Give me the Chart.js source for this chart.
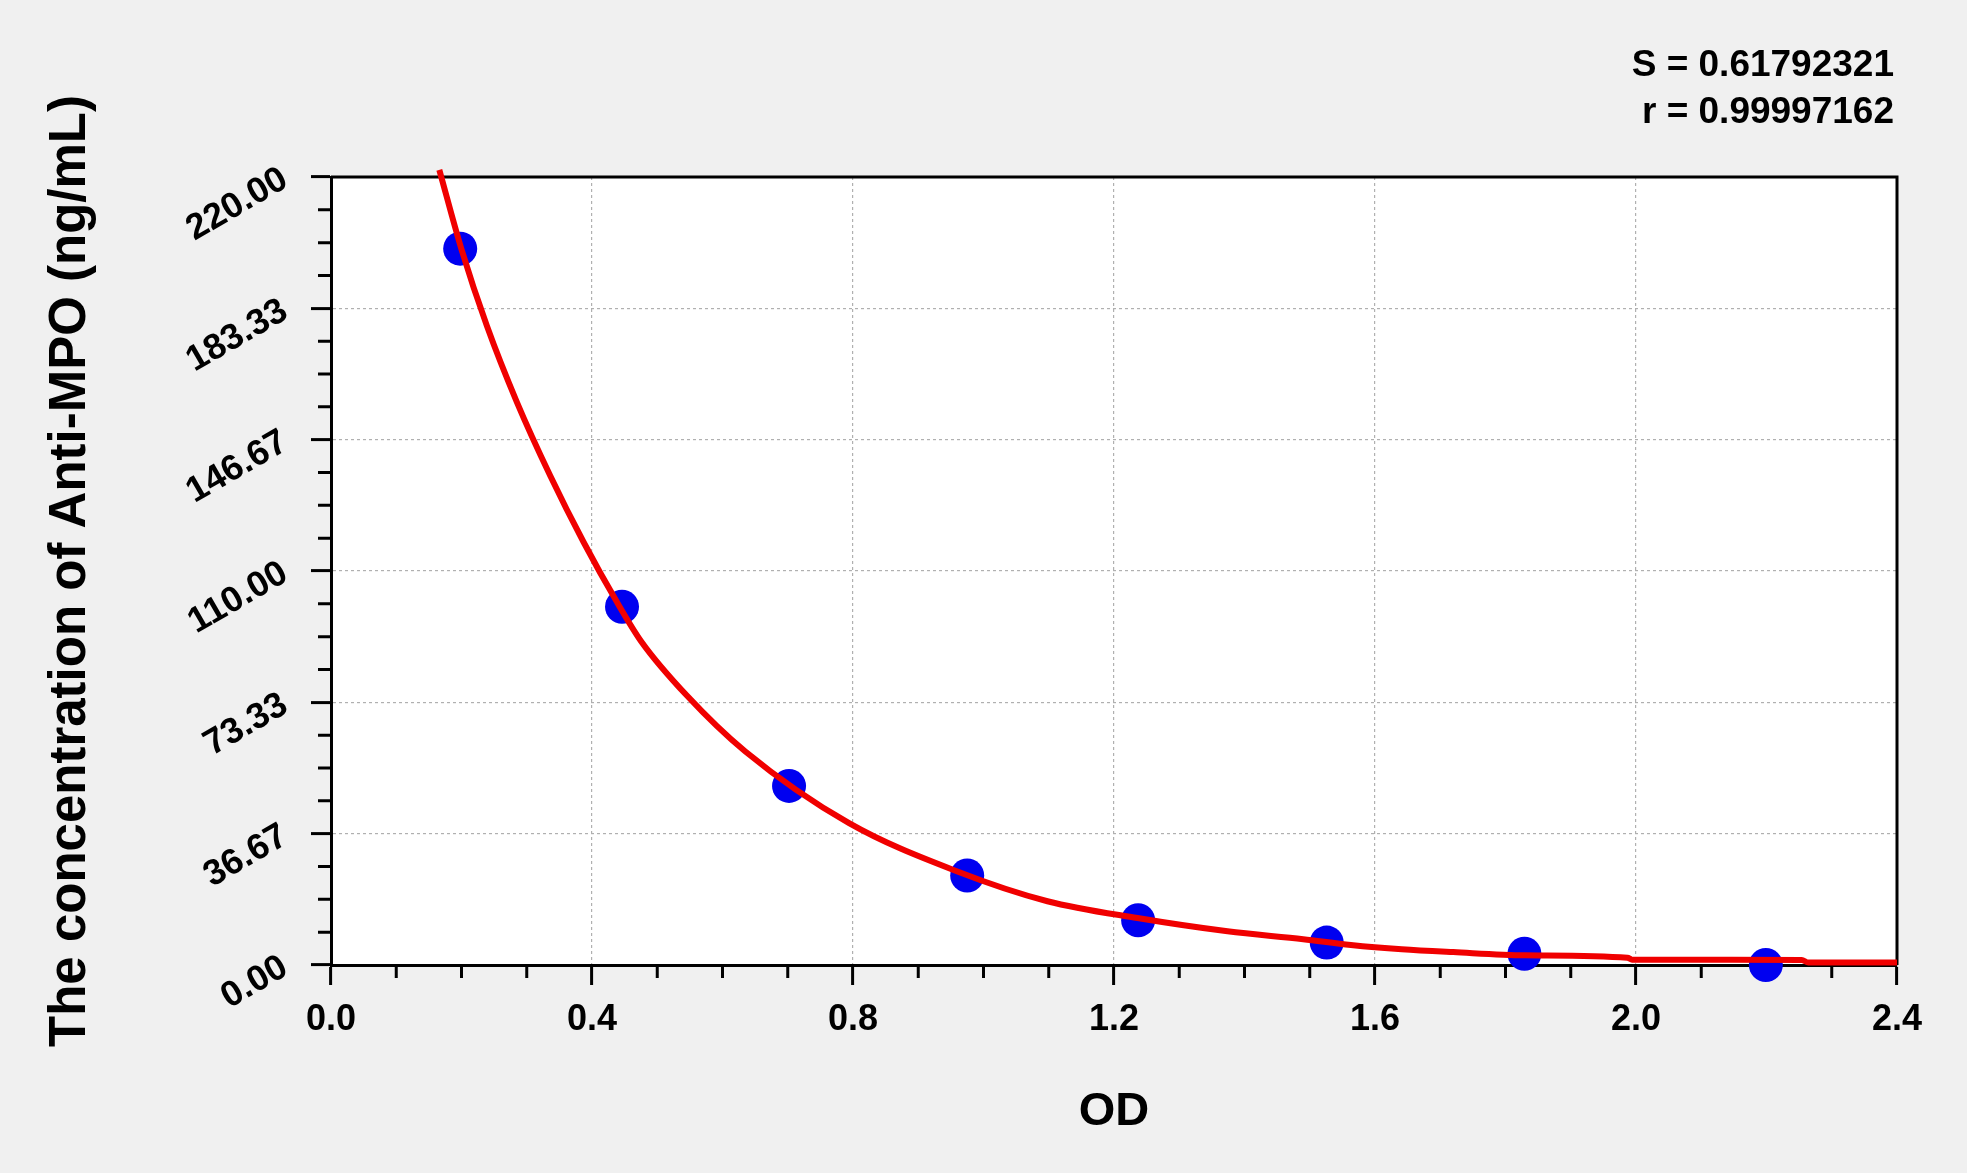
<!DOCTYPE html>
<html>
<head>
<meta charset="utf-8">
<title>Anti-MPO standard curve</title>
<script src="https://cdn.jsdelivr.net/npm/chart.js@4.4.1/dist/chart.umd.min.js"></script>
<style>
  html, body { margin: 0; padding: 0; background: #f0f0f0; }
  canvas { display: block; }
</style>
</head>
<body>
<canvas id="curve" width="1967" height="1173"></canvas>
<script>
// standards (OD vs concentration)
const standardOD = [0.198, 0.446, 0.702, 0.975, 1.237, 1.526, 1.829, 2.199]
const standardConc = [200, 100, 50, 25, 12.5, 6.25, 3.12, 0]

// fitted curve
const fitOD = [0.166, 0.200, 0.239, 0.285, 0.336, 0.387, 0.438, 0.476, 0.545, 0.635, 0.794, 0.960, 1.098, 1.236, 1.374, 1.490, 1.563, 1.641, 1.720, 1.830, 1.987, 1.994, 2.254, 2.264, 2.400]
const fitConc = [222, 199.8, 178.4, 157.1, 136.6, 118.1, 101.4, 90.2, 75.3, 59.6, 39.6, 26.1, 17.8, 13.1, 9.4, 7.2, 5.6, 4.4, 3.6, 2.7, 2.0, 1.5, 1.4, 0.7, 0.7]

const xTickLabels = ['0.0', '0.4', '0.8', '1.2', '1.6', '2.0', '2.4']
const yTickLabels = ['0.00', '36.67', '73.33', '110.00', '146.67', '183.33', '220.00']
const fitStats = ['S = 0.61792321', 'r = 0.99997162']

const FONT = 'Arial, "Liberation Sans", sans-serif'
const xTicks = xTickLabels.map(Number)
const yTicks = yTickLabels.map(Number)

function gridColor(ticks) {
  // no grid line on the frame edges
  return (ctx) => (ctx.index === 0 || ctx.index === ticks.length - 1 ? 'rgba(0,0,0,0)' : '#b0b0b0')
}

function axisOptions(ticks, labels) {
  return {
    type: 'linear',
    min: ticks[0],
    max: ticks[ticks.length - 1],
    afterBuildTicks: (scale) => { scale.ticks = ticks.map((value) => ({ value })) },
    grid: {
      color: gridColor(ticks),
      lineWidth: 1.2,
      drawTicks: true,
      tickLength: 20,
      tickWidth: 3,
      tickColor: '#000'
    },
    border: { display: true, color: '#000', width: 3, dash: [3, 3] },
    ticks: {
      autoSkip: false,
      color: '#000',
      font: { family: FONT, size: 36, weight: 'bold' },
      callback: (value, index) => labels[index]
    }
  }
}

const xAxis = axisOptions(xTicks, xTickLabels)
xAxis.afterFit = (scale) => { scale.height = 208 }
xAxis.ticks.padding = 13
xAxis.ticks.maxRotation = 0
xAxis.title = {
  display: true,
  text: 'OD',
  color: '#000',
  font: { family: FONT, size: 47, weight: 'bold' },
  padding: { top: 0, bottom: 33 }
}

const yAxis = axisOptions(yTicks, yTickLabels)
yAxis.afterFit = (scale) => { scale.width = 331 }
yAxis.ticks.padding = 26
yAxis.ticks.minRotation = 30
yAxis.ticks.maxRotation = 30
yAxis.title = {
  display: true,
  text: 'The concentration of Anti-MPO (ng/mL)',
  color: '#000',
  font: { family: FONT, size: 51, weight: 'bold' },
  padding: { top: 40, bottom: 0 }
}

const plotFrame = {
  id: 'plotFrame',
  beforeDraw(chart) {
    const { ctx, chartArea: a } = chart
    ctx.save()
    ctx.fillStyle = '#f0f0f0'
    ctx.fillRect(0, 0, chart.width, chart.height)
    ctx.fillStyle = '#fff'
    ctx.fillRect(a.left, a.top, a.right - a.left, a.bottom - a.top)
    ctx.restore()
  },
  beforeDatasetsDraw(chart) {
    const { ctx, chartArea: a, scales } = chart
    ctx.save()
    ctx.strokeStyle = '#000'
    ctx.lineWidth = 3
    ctx.beginPath()
    ctx.moveTo(a.left, a.top)
    ctx.lineTo(a.right, a.top)
    ctx.lineTo(a.right, a.bottom)
    ctx.stroke()

    // minor ticks, four steps between majors
    ctx.beginPath()
    for (let i = 0; i < xTicks.length - 1; i++) {
      const step = (xTicks[i + 1] - xTicks[i]) / 4
      for (let k = 1; k < 4; k++) {
        const px = scales.x.getPixelForValue(xTicks[i] + step * k)
        ctx.moveTo(px, a.bottom)
        ctx.lineTo(px, a.bottom + 13)
      }
    }
    for (let i = 0; i < yTicks.length - 1; i++) {
      const step = (yTicks[i + 1] - yTicks[i]) / 4
      for (let k = 1; k < 4; k++) {
        const py = scales.y.getPixelForValue(yTicks[i] + step * k)
        ctx.moveTo(a.left, py)
        ctx.lineTo(a.left - 13, py)
      }
    }
    ctx.stroke()
    ctx.restore()
  },
  afterDraw(chart) {
    const { ctx, chartArea: a } = chart
    ctx.save()
    ctx.fillStyle = '#000'
    ctx.font = `bold 37px ${FONT}`
    ctx.textAlign = 'right'
    ctx.textBaseline = 'middle'
    fitStats.forEach((line, i) => {
      ctx.fillText(line, a.right - 3, 66 + i * 47)
    })
    ctx.restore()
  }
}

new Chart(document.getElementById('curve'), {
  type: 'scatter',
  data: {
    datasets: [
      {
        label: 'fit',
        data: fitOD.map((x, i) => ({ x, y: fitConc[i] })),
        showLine: true,
        borderColor: '#f00000',
        borderWidth: 6,
        pointRadius: 0,
        pointHoverRadius: 0,
        cubicInterpolationMode: 'monotone',
        clip: false
      },
      {
        label: 'standards',
        data: standardOD.map((x, i) => ({ x, y: standardConc[i] })),
        showLine: false,
        backgroundColor: '#0000f0',
        borderWidth: 0,
        pointRadius: 17,
        pointHoverRadius: 17,
        clip: false
      }
    ]
  },
  plugins: [plotFrame],
  options: {
    responsive: false,
    animation: false,
    devicePixelRatio: 1,
    events: [],
    layout: { padding: { top: 177, right: 70, left: 0, bottom: 0 } },
    plugins: {
      legend: { display: false },
      tooltip: { enabled: false }
    },
    scales: { x: xAxis, y: yAxis }
  }
})
</script>
</body>
</html>
